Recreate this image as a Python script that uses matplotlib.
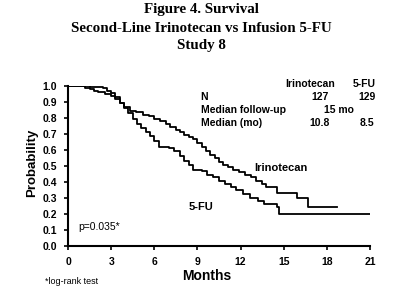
import matplotlib
matplotlib.use("Agg")
import matplotlib.pyplot as plt

# survival curves (months, probability)
iri_t = [0, 1.2, 1.5, 1.8, 2.1, 2.6, 3.0, 3.3, 3.6, 3.9, 4.3, 4.7, 5.2, 5.6, 6.0, 6.4,
         6.8, 7.1, 7.5, 7.8, 8.1, 8.4, 8.7, 9.0, 9.3, 9.6, 9.9, 10.2, 10.5, 10.8, 11.1,
         11.5, 11.9, 12.3, 12.7, 13.1, 13.5, 13.8, 14.55, 15.9, 16.7, 18.7]
iri_s = [1.0, 0.99, 0.98, 0.97, 0.96, 0.95, 0.935, 0.92, 0.895, 0.87, 0.845, 0.835, 0.82,
         0.81, 0.795, 0.78, 0.765, 0.745, 0.725, 0.71, 0.695, 0.68, 0.665, 0.64, 0.615,
         0.595, 0.57, 0.55, 0.525, 0.505, 0.49, 0.475, 0.46, 0.445, 0.43, 0.405, 0.385,
         0.37, 0.33, 0.30, 0.245, 0.245]

fu_t = [0, 1.5, 2.4, 2.7, 3.0, 3.3, 3.6, 3.9, 4.2, 4.5, 4.8, 5.1, 5.4, 5.7, 6.0, 6.3,
        7.0, 7.4, 7.8, 8.1, 8.4, 8.7, 9.3, 9.7, 10.1, 10.5, 10.9, 11.3, 11.7, 12.2,
        12.65, 13.2, 13.6, 14.5, 14.7, 21.0]
fu_s = [1.0, 0.995, 0.985, 0.97, 0.955, 0.93, 0.895, 0.865, 0.83, 0.795, 0.765, 0.735,
        0.71, 0.685, 0.655, 0.62, 0.61, 0.59, 0.56, 0.53, 0.505, 0.475, 0.465, 0.445,
        0.43, 0.405, 0.385, 0.365, 0.35, 0.325, 0.3, 0.28, 0.26, 0.24, 0.2, 0.2]

x_ticks = [0, 3, 6, 9, 12, 15, 18, 21]
y_ticks = [i / 10 for i in range(11)]

table_rows = [("N", "127", "129"),
              ("Median follow-up", "15 mo", None),
              ("Median (mo)", "10.8", "8.5")]

sans = "Liberation Sans"
serif = "Liberation Serif"

W, H = 400, 294
fig = plt.figure(figsize=(W / 100, H / 100), dpi=100)
ax = fig.add_axes([68 / W, 1 - 245.7 / H, 302 / W, 159.7 / H])

ax.step(iri_t, iri_s, where="post", color="black", lw=1.3)
ax.step(fu_t, fu_s, where="post", color="black", lw=1.3)

ax.set_xlim(0, 21)
ax.set_ylim(0, 1.0)
ax.set_xticks(x_ticks)
ax.set_yticks(y_ticks)
ax.set_xticklabels([str(v) for v in x_ticks], fontfamily=sans, fontweight="bold", fontsize=7.5)
ax.set_yticklabels(["%.1f" % v for v in y_ticks], fontfamily=sans, fontweight="bold", fontsize=7.5)
ax.tick_params(direction="out", length=3, width=1.2, pad=5)
for side in ("top", "right"):
    ax.spines[side].set_visible(False)
for side in ("left", "bottom"):
    ax.spines[side].set_linewidth(1.5)

ax.text(14.78, 0.487, "Irinotecan", ha="center", va="center", fontfamily=sans,
        fontweight="bold", fontsize=8)
ax.text(9.28, 0.244, "5-FU", ha="center", va="center", fontfamily=sans,
        fontweight="bold", fontsize=8)
ax.text(2.16, 0.119, "p=0.035*", ha="center", va="center", fontfamily=sans,
        fontsize=7.5)

# titles
titles = ["Figure 4. Survival", "Second-Line Irinotecan vs Infusion 5-FU", "Study 8"]
for py, t in zip([10, 28, 45], titles):
    fig.text(201 / W, 1 - py / H, t, ha="center", va="center", fontfamily=serif,
             fontweight="bold", fontsize=10.8)

# stats table
def ftxt(px, py, s, ha):
    fig.text(px / W, 1 - py / H, s, ha=ha, va="center", fontfamily=sans,
             fontweight="bold", fontsize=7.5)

ftxt(310.5, 84, "Irinotecan", "center")
ftxt(364.7, 84, "5-FU", "center")
for py, (lab, a, b) in zip([96.7, 110, 123.3], table_rows):
    ftxt(200.7, py, lab, "left")
    if b is None:
        ftxt(339, py, a, "center")
    else:
        ftxt(320, py, a, "center")
        ftxt(366.7, py, b, "center")

fig.text(207 / W, 1 - 276 / H, "Months", ha="center", va="center", fontfamily=sans,
         fontweight="bold", fontsize=10)
fig.text(32 / W, 1 - 163 / H, "Probability", ha="center", va="center", rotation=90,
         fontfamily=sans, fontweight="bold", fontsize=9.5)
fig.text(45 / W, 1 - 281.7 / H, "*log-rank test", ha="left", va="center",
         fontfamily=sans, fontsize=6.5)

fig.savefig("out.png", dpi=100)
